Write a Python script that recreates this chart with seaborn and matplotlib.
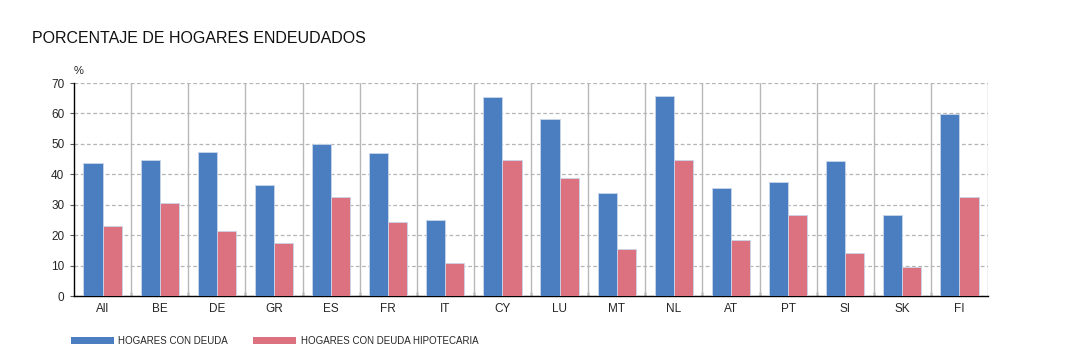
import pandas as pd
import matplotlib.pyplot as plt
import seaborn as sns
from matplotlib.patches import Patch

# values (%)
countries = ["All", "BE", "DE", "GR", "ES", "FR", "IT", "CY", "LU", "MT",
             "NL", "AT", "PT", "SI", "SK", "FI"]
con_deuda = [43.6, 44.7, 47.3, 36.5, 50.0, 46.9, 25.1, 65.3, 58.2, 34.0,
             65.6, 35.5, 37.6, 44.5, 26.7, 59.7]
con_hipoteca = [23.0, 30.5, 21.4, 17.4, 32.4, 24.3, 10.7, 44.7, 38.7, 15.4,
                44.6, 18.3, 26.6, 14.0, 9.5, 32.6]
series = ["HOGARES CON DEUDA", "HOGARES CON DEUDA HIPOTECARIA"]
colors = ["#4a7ec1", "#dc717f"]

df = pd.DataFrame({
    "pais": countries * 2,
    "valor": con_deuda + con_hipoteca,
    "serie": [series[0]] * len(countries) + [series[1]] * len(countries),
})

sns.set_style("white")
plt.rcParams["font.family"] = ["Liberation Sans", "DejaVu Sans"]

fig = plt.figure(figsize=(10.7, 3.62), dpi=100)
ax = fig.add_axes([0.0692, 0.1823, 0.8542, 0.5884])

sns.barplot(data=df, x="pais", y="valor", hue="serie", palette=colors,
            saturation=1, width=0.67, edgecolor="#c9d6ea", linewidth=0.6, ax=ax,
            legend=False, zorder=3)

n = len(countries)
ax.set_xlim(-0.5, n - 0.5)
ax.set_ylim(0, 70)
ax.set_yticks(range(0, 71, 10))
ax.yaxis.grid(True, linestyle=(0, (3, 2)), color="#b5b5b5", linewidth=0.9, zorder=0)
for b in range(1, n + 1):
    ax.axvline(b - 0.5, color="#b8b8b8", linewidth=1.0, zorder=1)
ax.set_xlabel("")
ax.set_ylabel("")

for s in ["top", "right"]:
    ax.spines[s].set_visible(False)
for s in ["left", "bottom"]:
    ax.spines[s].set_color("black")
    ax.spines[s].set_linewidth(1.0)

ax.tick_params(axis="y", length=3, width=0.8, color="#555555", labelsize=8.5, pad=4,
               left=True)
ax.tick_params(axis="x", length=0, labelsize=8.5, pad=5)
ax.set_xticks(range(n))
ax.set_xticklabels(countries)
ax.set_xticks([i - 0.5 for i in range(1, n)], minor=True)
ax.tick_params(axis="x", which="minor", length=3, width=1, color="#333333", bottom=True,
               direction="in")

fig.text(0.030, 0.895, "PORCENTAJE DE HOGARES ENDEUDADOS", fontsize=11.5,
         color="#111111", va="center")
fig.text(0.069, 0.805, "%", fontsize=8, color="#222222", va="center")

handles = [Patch(facecolor=c, edgecolor="none") for c in colors]
fig.legend(handles, series, loc="center left", bbox_to_anchor=(0.058, 0.058),
           ncol=2, frameon=False, prop={"size": 7},
           handlelength=4.4, handleheight=0.6, handletextpad=0.5, columnspacing=2.6)

fig.savefig("out.png", dpi=100)
